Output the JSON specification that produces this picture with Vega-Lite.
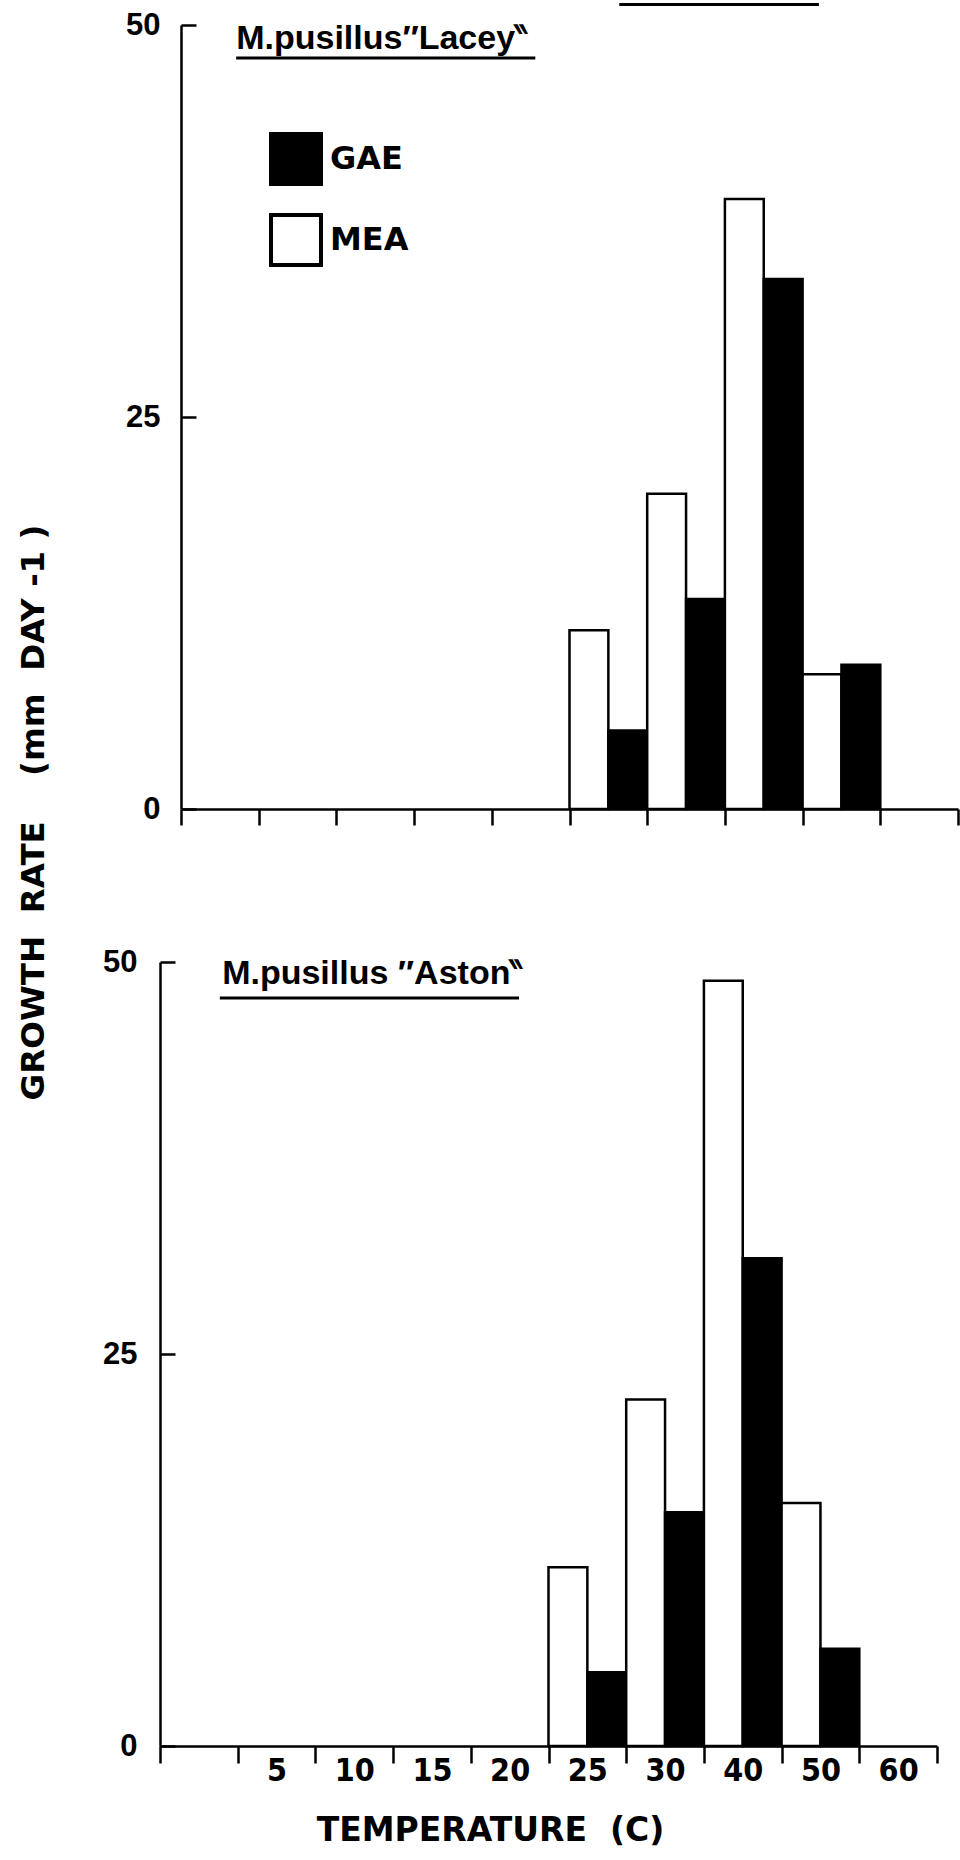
{
  "$schema": "https://vega.github.io/schema/vega-lite/v6.json",
  "padding": {"left": 17, "top": 3, "right": 0, "bottom": 5},
  "background": "white",
  "bounds": "flush",
  "spacing": 153,
  "config": {"view": {"stroke": null}, "font": "Liberation Sans"},
  "resolve": {"scale": {"fill": "independent"}},
  "datasets": {
    "growth": [
      {"strain": "Lacey", "temperature": "25", "medium": "MEA", "rate": 11.4},
      {"strain": "Lacey", "temperature": "25", "medium": "GAE", "rate": 5.0},
      {"strain": "Lacey", "temperature": "30", "medium": "MEA", "rate": 20.1},
      {"strain": "Lacey", "temperature": "30", "medium": "GAE", "rate": 13.4},
      {"strain": "Lacey", "temperature": "40", "medium": "MEA", "rate": 38.9},
      {"strain": "Lacey", "temperature": "40", "medium": "GAE", "rate": 33.8},
      {"strain": "Lacey", "temperature": "50", "medium": "MEA", "rate": 8.6},
      {"strain": "Lacey", "temperature": "50", "medium": "GAE", "rate": 9.2},
      {"strain": "Aston", "temperature": "25", "medium": "MEA", "rate": 11.4},
      {"strain": "Aston", "temperature": "25", "medium": "GAE", "rate": 4.7},
      {"strain": "Aston", "temperature": "30", "medium": "MEA", "rate": 22.1},
      {"strain": "Aston", "temperature": "30", "medium": "GAE", "rate": 14.9},
      {"strain": "Aston", "temperature": "40", "medium": "MEA", "rate": 48.8},
      {"strain": "Aston", "temperature": "40", "medium": "GAE", "rate": 31.1},
      {"strain": "Aston", "temperature": "50", "medium": "MEA", "rate": 15.5},
      {"strain": "Aston", "temperature": "50", "medium": "GAE", "rate": 6.2}
    ]
  },
  "vconcat": [
    {
      "width": 798,
      "height": 784,
      "resolve": {"scale": {"x": "independent"}},
      "layer": [
        {
          "data": {"name": "growth"},
          "transform": [{"filter": "datum.strain == 'Lacey'"}],
          "mark": {"type": "bar", "stroke": "black", "strokeWidth": 2.5},
          "encoding": {
            "x": {
              "field": "temperature", "type": "ordinal",
              "scale": {"domain": ["0", "5", "10", "15", "20", "25", "30", "40", "50", "60"], "paddingInner": 0, "paddingOuter": 0, "range": [21, 798]},
              "axis": {"title": null, "labels": false, "tickBand": "extent", "tickSize": 16, "tickWidth": 2.5, "tickColor": "black", "domainColor": "black", "domainWidth": 2.5, "grid": false}
            },
            "xOffset": {"field": "medium", "type": "nominal", "scale": {"domain": ["MEA", "GAE"], "paddingInner": 0, "paddingOuter": 0}},
            "y": {
              "field": "rate", "type": "quantitative",
              "scale": {"domain": [0, 50], "nice": false},
              "axis": {
                "values": [0, 25, 50], "grid": false, "offset": -21,
                "tickSize": -15, "tickWidth": 2.5, "tickColor": "black",
                "domainColor": "black", "domainWidth": 2.5,
                "labelPadding": 36, "labelFont": "Liberation Sans", "labelFontWeight": "bold", "labelFontSize": 31, "labelColor": "black",
                "title": "GROWTH\u00a0 RATE\u00a0\u00a0\u00a0 (mm\u00a0 DAY -1 )",
                "titleFont": "DejaVu Sans", "titleFontWeight": "bold", "titleFontSize": 32.5, "titleColor": "black",
                "titleX": -148, "titleY": 787, "titleAngle": -90, "titleAlign": "center", "titleBaseline": "middle"
              }
            },
            "fill": {
              "field": "medium", "type": "nominal",
              "scale": {"domain": ["GAE", "MEA"], "range": ["black", "white"]},
              "legend": {
                "orient": "none", "legendX": 109, "legendY": 107, "title": null, "padding": 0,
                "symbolType": "square", "symbolSize": 2500, "symbolStrokeColor": "black", "symbolStrokeWidth": 4,
                "labelFont": "DejaVu Sans", "labelFontWeight": "bold", "labelFontSize": 32, "labelColor": "black",
                "labelOffset": 7, "rowPadding": 15
              }
            }
          }
        },
        {
          "data": {"values": [{"label": "M.pusillus\u2033Lacey\u2036"}]},
          "mark": {"type": "text", "align": "left", "baseline": "alphabetic", "font": "Liberation Sans", "fontWeight": "bold", "fontSize": 34, "color": "black"},
          "encoding": {
            "x": {"datum": 0.71, "type": "quantitative", "scale": {"domain": [0, 10], "nice": false, "zero": false, "range": [21, 798]}, "axis": null},
            "y": {"datum": 48.5, "type": "quantitative"},
            "text": {"field": "label"}
          }
        },
        {
          "data": {"values": [{"label": "M.pusillus\u2033Lacey\u2036"}]},
          "mark": {"type": "rule", "strokeWidth": 3, "color": "black"},
          "encoding": {
            "x": {"datum": 0.71, "type": "quantitative", "scale": {"domain": [0, 10], "nice": false, "zero": false, "range": [21, 798]}, "axis": null},
            "x2": {"datum": 4.56},
            "y": {"datum": 47.9, "type": "quantitative"}
          }
        },
        {
          "data": {"values": [{"label": "edge of preceding figure"}]},
          "mark": {"type": "rule", "strokeWidth": 3, "color": "black"},
          "encoding": {
            "x": {"datum": 5.64, "type": "quantitative", "scale": {"domain": [0, 10], "nice": false, "zero": false, "range": [21, 798]}, "axis": null},
            "x2": {"datum": 8.21},
            "y": {"datum": 51.3, "type": "quantitative"}
          }
        }
      ]
    },
    {
      "width": 777,
      "height": 784,
      "resolve": {"scale": {"x": "independent"}},
      "layer": [
        {
          "data": {"name": "growth"},
          "transform": [{"filter": "datum.strain == 'Aston'"}],
          "mark": {"type": "bar", "stroke": "black", "strokeWidth": 2.5},
          "encoding": {
            "x": {
              "field": "temperature", "type": "ordinal",
              "scale": {"domain": ["0", "5", "10", "15", "20", "25", "30", "40", "50", "60"], "paddingInner": 0, "paddingOuter": 0},
              "axis": {
                "tickBand": "extent", "tickSize": 17, "tickWidth": 2.5, "tickColor": "black", "domainColor": "black", "domainWidth": 2.5, "grid": false,
                "labelExpr": "datum.value == '0' ? '' : datum.value", "labelAngle": 0, "labelPadding": -8,
                "labelFont": "Liberation Sans Narrow, DejaVu Sans Condensed, Liberation Sans", "labelFontWeight": "bold", "labelFontSize": 32, "labelColor": "black",
                "title": "TEMPERATURE\u00a0 (C)",
                "titleFont": "DejaVu Sans", "titleFontWeight": "bold", "titleFontSize": 33, "titleColor": "black",
                "titleX": 330, "titleY": 84, "titleAlign": "center", "titleBaseline": "middle"
              }
            },
            "xOffset": {"field": "medium", "type": "nominal", "scale": {"domain": ["MEA", "GAE"], "paddingInner": 0, "paddingOuter": 0}},
            "y": {
              "field": "rate", "type": "quantitative",
              "scale": {"domain": [0, 50], "nice": false},
              "axis": {
                "values": [0, 25, 50], "grid": false, "title": null,
                "tickSize": -15, "tickWidth": 2.5, "tickColor": "black",
                "domainColor": "black", "domainWidth": 2.5,
                "labelPadding": 38, "labelFont": "Liberation Sans", "labelFontWeight": "bold", "labelFontSize": 31, "labelColor": "black"
              }
            },
            "fill": {
              "field": "medium", "type": "nominal",
              "scale": {"domain": ["GAE", "MEA"], "range": ["black", "white"]},
              "legend": null
            }
          }
        },
        {
          "data": {"values": [{"label": "M.pusillus \u2033Aston\u2036"}]},
          "mark": {"type": "text", "align": "left", "baseline": "alphabetic", "font": "Liberation Sans", "fontWeight": "bold", "fontSize": 34, "color": "black"},
          "encoding": {
            "x": {"datum": 0.8, "type": "quantitative", "scale": {"domain": [0, 10], "nice": false, "zero": false}, "axis": null},
            "y": {"datum": 48.6, "type": "quantitative"},
            "text": {"field": "label"}
          }
        },
        {
          "data": {"values": [{"label": "M.pusillus \u2033Aston\u2036"}]},
          "mark": {"type": "rule", "strokeWidth": 3, "color": "black"},
          "encoding": {
            "x": {"datum": 0.77, "type": "quantitative", "scale": {"domain": [0, 10], "nice": false, "zero": false}, "axis": null},
            "x2": {"datum": 4.62},
            "y": {"datum": 47.7, "type": "quantitative"}
          }
        }
      ]
    }
  ]
}
